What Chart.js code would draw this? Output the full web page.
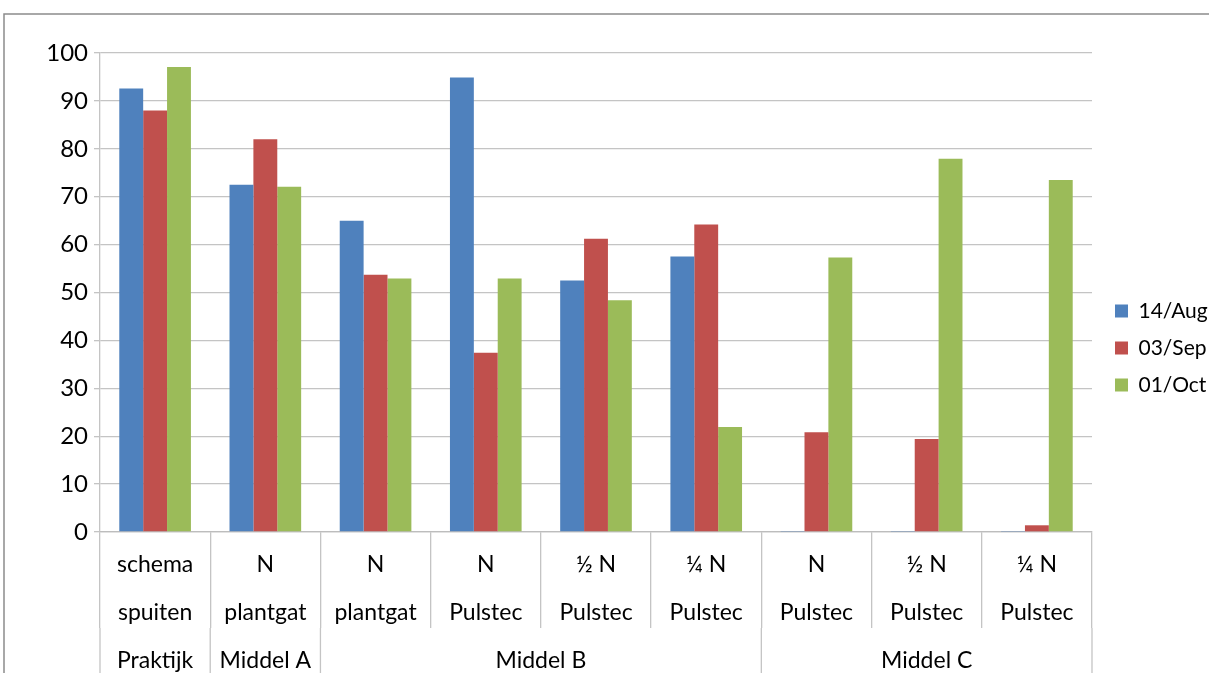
<!DOCTYPE html>
<html>
<head>
<meta charset="utf-8">
<script src="https://cdn.jsdelivr.net/npm/chart.js@4/dist/chart.umd.min.js"></script>
<style>
  html, body { margin: 0; padding: 0; background: #fff; }
</style>
</head>
<body>
<canvas id="grafiek" width="1209" height="673"></canvas>
<script>
// --- data ---
const categorieen = [
    ['schema', 'spuiten'],
    ['N', 'plantgat'],
    ['N', 'plantgat'],
    ['N', 'Pulstec'],
    ['½ N', 'Pulstec'],
    ['¼ N', 'Pulstec'],
    ['N', 'Pulstec'],
    ['½ N', 'Pulstec'],
    ['¼ N', 'Pulstec']
];
const groepen = ['Praktijk', 'Middel A', 'Middel B', 'Middel C'];
const groepGrootte = [1, 1, 4, 3];

const reeksNamen = ['14/Aug', '03/Sep', '01/Oct'];
const aug14 = [92.6, 72.5, 65.0, 94.9, 52.5, 57.5, 0.2, 0.2, 0.2];
const sep03 = [88.0, 82.0, 53.7, 37.4, 61.2, 64.2, 20.8, 19.4, 1.4];
const okt01 = [97.1, 72.1, 52.9, 52.9, 48.4, 21.9, 57.3, 77.9, 73.5];

const yMin = 0;
const yMax = 100;
const yStap = 10;

const FONT = 'Lato';
const lijnKleur = '#c4c4c4';

// group row + frame below the category labels
const groepPlugin = {
    id: 'groepen',
    beforeDraw(chart) {
        const ctx = chart.ctx;
        ctx.save();
        ctx.strokeStyle = '#8c8c8c';
        ctx.lineWidth = 1.5;
        ctx.beginPath();
        ctx.moveTo(4, chart.height);
        ctx.lineTo(4, 14);
        ctx.lineTo(chart.width, 14);
        ctx.stroke();
        ctx.restore();
    },
    afterDraw(chart) {
        const xs = chart.scales.x;
        const ctx = chart.ctx;
        const half = (xs.getPixelForValue(1) - xs.getPixelForValue(0)) / 2;
        const tickEind = xs.top + xs.options.grid.tickLength;
        ctx.save();
        ctx.strokeStyle = lijnKleur;
        ctx.lineWidth = 1.3;
        ctx.fillStyle = '#000';
        ctx.font = '23px ' + FONT;
        ctx.textAlign = 'center';
        ctx.textBaseline = 'middle';

        let start = 0;
        const xLinks = xs.getPixelForValue(0) - half;
        ctx.beginPath();
        ctx.moveTo(xLinks, tickEind);
        ctx.lineTo(xLinks, chart.height);
        ctx.stroke();
        groepen.forEach(function (naam, g) {
            const eind = start + groepGrootte[g] - 1;
            const x0 = xs.getPixelForValue(start) - half;
            const x1 = xs.getPixelForValue(eind) + half;
            ctx.beginPath();
            ctx.moveTo(x1, tickEind);
            ctx.lineTo(x1, chart.height);
            ctx.stroke();
            ctx.fillText(naam, (x0 + x1) / 2, tickEind + 33);
            start = eind + 1;
        });
        ctx.restore();
    }
};

new Chart(document.getElementById('grafiek').getContext('2d'), {
    type: 'bar',
    data: {
        labels: categorieen,
        datasets: [
            { label: reeksNamen[0], data: aug14, backgroundColor: '#4F81BD' },
            { label: reeksNamen[1], data: sep03, backgroundColor: '#C0504D' },
            { label: reeksNamen[2], data: okt01, backgroundColor: '#9BBB59' }
        ]
    },
    options: {
        responsive: false,
        animation: false,
        devicePixelRatio: 1,
        datasets: {
            bar: { categoryPercentage: 0.65, barPercentage: 1.0 }
        },
        layout: { padding: { top: 53, left: 0, right: 0, bottom: 0 } },
        plugins: {
            tooltip: { enabled: false },
            legend: {
                position: 'right',
                align: 'center',
                fullSize: false,
                maxWidth: 110,
                title: { display: true, text: '', padding: { top: 100, bottom: 0 }, font: { size: 11, lineHeight: 1 } },
                labels: {
                    boxWidth: 13,
                    boxHeight: 13,
                    padding: 16,
                    color: '#000',
                    font: { family: FONT, size: 21 }
                }
            }
        },
        scales: {
            x: {
                grid: {
                    offset: true,
                    drawOnChartArea: false,
                    tickLength: 96,
                    color: lijnKleur,
                    lineWidth: 1.3
                },
                border: { color: '#bdbdbd', width: 1.3 },
                ticks: {
                    color: '#000',
                    padding: -87,
                    maxRotation: 0,
                    autoSkip: false,
                    font: { family: FONT, size: 23, lineHeight: 48 / 23 }
                },
                afterFit(scale) { scale.height = 141; }
            },
            y: {
                min: yMin,
                max: yMax,
                grid: { color: lijnKleur, lineWidth: 1.3, tickLength: 6 },
                border: { color: lijnKleur, width: 1.3 },
                ticks: {
                    stepSize: yStap,
                    color: '#000',
                    padding: 6,
                    font: { family: FONT, size: 24 }
                },
                afterFit(scale) { scale.width = 100; }
            },
            ruimte: {
                position: 'right',
                display: true,
                grid: { display: false, drawTicks: false },
                border: { display: false },
                ticks: { display: false },
                afterFit(scale) { scale.width = 7; }
            }
        }
    },
    plugins: [groepPlugin]
});
</script>
</body>
</html>
